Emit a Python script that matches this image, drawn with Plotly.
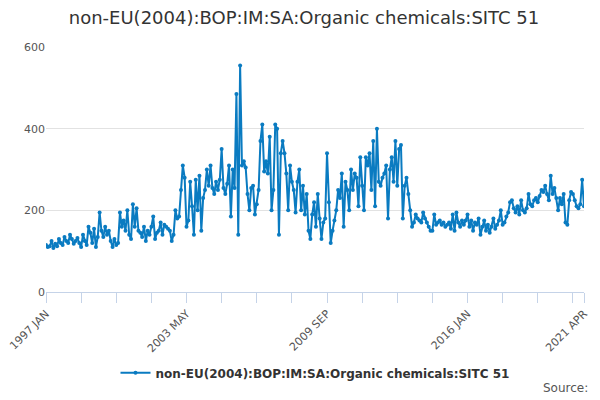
import plotly.graph_objects as go

months = ["JAN", "FEB", "MAR", "APR", "MAY", "JUN", "JUL", "AUG", "SEP", "OCT", "NOV", "DEC"]
dates = [f"{y} {m}" for y in range(1997, 2022) for m in months][:292]

values = [
    115, 110, 112, 125, 108, 118, 112, 130, 120, 115, 135, 125,
    120, 140, 130, 118, 125, 132, 120, 110, 140, 125, 115, 160,
    145, 120, 155, 110, 135, 195, 150, 135, 160, 140, 150, 125,
    110, 130, 115, 120, 195, 160, 175, 150, 200, 140, 130, 215,
    160, 205, 150, 145, 135, 160, 125, 150, 140, 160, 185, 130,
    145, 150, 170, 140, 165, 160, 155, 150, 125, 140, 200, 180,
    185, 250, 310, 280, 160, 175, 270, 210, 140, 275, 200, 285,
    150, 230, 250, 300, 260, 310, 255, 240, 270, 250, 275, 350,
    255, 240, 265, 310, 185, 300, 255, 485, 140, 555, 310, 320,
    305, 240, 200, 255, 260, 190, 215, 250, 370, 410, 295, 320,
    290, 380, 200, 250, 410, 400, 140, 340, 370, 340, 290, 200,
    310, 270, 250, 195, 270, 300, 200, 260, 190, 240, 150, 130,
    190, 220, 160, 240, 180, 130, 170, 180, 340, 220, 120, 150,
    175, 200, 250, 230, 290, 160, 270, 250, 200, 300, 250, 290,
    280, 210, 330, 260, 200, 330, 310, 340, 250, 370, 210, 400,
    270, 260, 280, 290, 310, 180, 300, 330, 270, 370, 260, 350,
    360, 180, 260, 280, 240, 200, 160, 170, 190, 180, 175, 170,
    195, 180, 170, 160, 150, 150, 190, 165, 170, 175, 165, 170,
    160, 165, 170, 155, 190, 150, 195, 170, 160, 175, 165, 175,
    190, 160, 175, 150, 170, 165, 180, 140, 160, 175, 150, 165,
    145, 160, 180, 155, 165, 175, 200, 165, 170, 185, 195, 220,
    225, 205, 195, 210, 190, 225, 200, 195, 205, 240, 215, 210,
    225, 230, 220, 235, 250, 245, 260, 240, 225, 285, 240, 255,
    230, 200, 230, 215, 240, 170, 165, 225, 245, 240, 225, 210,
    205, 215, 275, 210,
]

tick_labels = ["1997 JAN", "2003 MAY", "2009 SEP", "2016 JAN", "2021 APR"]
name = "non-EU(2004):BOP:IM:SA:Organic chemicals:SITC 51"

fig = go.Figure()
fig.add_trace(go.Scatter(x=dates, y=values, mode="lines+markers", name=name,
                         line=dict(color="#0a7bc1", width=2),
                         marker=dict(size=4, color="#0a7bc1")))
fig.update_xaxes(type="category", tickvals=tick_labels, ticktext=tick_labels,
                 tickangle=-45, showgrid=False, showline=True, linecolor="#c5d3e8",
                 ticks="outside", tickcolor="#c5d3e8", ticklen=10, automargin=False,
                 tickfont=dict(color="#555", size=11),
                 minor=dict(tickvals=dates[::19], ticks="outside", ticklen=10, tickcolor="#c5d3e8"),
                 range=[0, 291])
fig.update_yaxes(range=[0, 600], tickvals=[0, 200, 400, 600], gridcolor="#e2e2e2",
                 tickfont=dict(color="#555", size=11), zeroline=False, automargin=False)
fig.update_layout(
    width=592, height=392, plot_bgcolor="white", paper_bgcolor="white",
    font=dict(family="DejaVu Sans"),
    title=dict(text=name, x=0.5, y=0.975, yanchor="middle", font=dict(size=18, color="#333")),
    margin=dict(l=38, r=16, t=39, b=108, autoexpand=False),
    showlegend=True,
    legend=dict(orientation="h", x=0.5, xanchor="center", y=-0.33, yanchor="middle",
                font=dict(size=12, color="#333", weight="bold")),
    annotations=[dict(text="Source:", xref="paper", yref="paper", x=1.011, y=-0.39,
                      xanchor="right", yanchor="middle", showarrow=False,
                      font=dict(size=12, color="#555"))],
)
fig.write_html("out.html")
